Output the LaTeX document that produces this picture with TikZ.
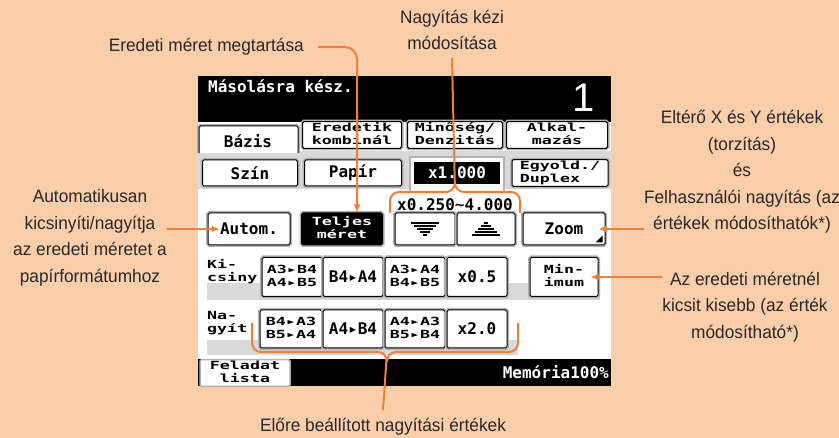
\documentclass[tikz,border=0pt]{standalone}
\usepackage{fontspec}
\usepackage{graphicx}
\setmainfont{Liberation Sans}[FakeStretch=0.96]
\newfontfamily\lcd{DejaVu Sans Mono}
\newfontfamily\bigdigit{Liberation Sans}
\usetikzlibrary{arrows.meta}

\definecolor{peach}{RGB}{251,206,170}
\definecolor{callout}{RGB}{240,128,56}
\definecolor{notegray}{RGB}{40,40,40}

% two squeezed lines on one key
\newcommand\pair[3][c]{\scalebox{1.04}[0.7]{\begin{tabular}{@{}#1@{}}#2\\#3\end{tabular}}}
\newcommand\tri{▸}

\tikzset{
  note/.style={align=center, text=notegray, inner sep=0pt,
    font=\fontsize{18}{26.5}\selectfont},
  lead/.style={draw=callout, line width=2pt, rounded corners=9pt},
  leadarrow/.style={lead, -{Latex[length=8pt,width=7pt]}},
  lcdtext/.style={inner sep=0pt, font=\lcd\bfseries\fontsize{16}{19}\selectfont},
  key/.style={lcdtext, draw=black, line width=1pt, fill=white,
    rounded corners=1.5pt, preaction={draw=gray!60, line width=4pt}},
  keyon/.style={key, fill=black, text=white},
  strip/.style={fill=gray!30},
}

\begin{document}
\begin{tikzpicture}[x=1pt, y=-1pt]
  % page
  \fill[peach] (0,0) rectangle (839,438);
  \useasboundingbox (0,0) rectangle (839,438);

  % screen
  \fill[white] (198,76) rectangle (611,386);
  \fill[black] (198,76) rectangle (611,122);
  \fill[black] (198,359) rectangle (611,386);
  \node[lcdtext, text=white, anchor=base west] (status) at (208,93) {Másolásra kész.};
  \node[text=white, font=\bigdigit\fontsize{40}{40}\selectfont, anchor=base, inner sep=0pt] (copies) at (584,112) {1};

  % tabs
  \fill[strip] (198,151) rectangle (611,189);
  \draw[fill=white, line width=1pt, rounded corners=1.5pt,
    preaction={draw=gray!60, line width=4pt}] (199,153) -- (199,126) -- (298,126) -- (298,153);
  \node[lcdtext] (basis) at (248,141) {Bázis};
  \node[key, minimum width=99, minimum height=26] (combine) at (352,135) {\pair{Eredetik}{kombinál}};
  \node[key, minimum width=95, minimum height=26] (quality) at (455,135) {\pair{Minőség/}{Denzitás}};
  \node[key, minimum width=101, minimum height=26] (apps) at (557,135) {\pair{Alkal-}{mazás}};

  % second row
  \node[key, minimum width=95, minimum height=26] (color) at (250,173) {Szín};
  \node[key, minimum width=97, minimum height=26] (paper) at (353,173) {Papír};
  \draw[gray!60, line width=2pt, fill=white] (410,193) -- (410,157) -- (504,157) -- (504,193);
  \node[lcdtext, fill=black, text=white, minimum width=86, minimum height=22] (ratio) at (457,173) {x1.000};
  \node[key, minimum width=96, minimum height=26] (duplex) at (560,173) {\pair[l]{Egyold./}{Duplex}};

  % zoom keys
  \node[lcdtext] (range) at (455,205) {x0.250\textasciitilde4.000};
  \node[key, minimum width=82, minimum height=32] (autom) at (249,229) {Autom.};
  \node[keyon, minimum width=81, minimum height=32] (teljes) at (342,229) {\pair{Teljes}{méret}};
  \node[key, minimum width=60, minimum height=32] (down) at (425,229) {};
  \node[key, minimum width=58, minimum height=32] (up) at (486,229) {};
  \node[key, minimum width=82, minimum height=32] (zoom) at (564,229) {Zoom};
  \foreach \i in {0,...,4} {
    \draw[line width=1.4pt] ([shift={(-14+3*\i,-6+3*\i)}]down.center) -- ([shift={(14-3*\i,-6+3*\i)}]down.center);
    \draw[line width=1.4pt] ([shift={(-2-3*\i,-6+3*\i)}]up.center) -- ([shift={(2+3*\i,-6+3*\i)}]up.center);
  }
  \fill ([shift={(-3,-3)}]zoom.south east) -- ++(-7,0) -- ++(7,-7) -- cycle;

  % preset keys
  \fill[strip] (207,283) rectangle (600,300);
  \fill[strip] (207,340) rectangle (518,355);
  \node[lcdtext, anchor=west] (smaller) at (207,272) {\pair[l]{Ki-}{csiny}};
  \node[key, minimum width=60, minimum height=39] (a3b4) at (292,277) {\pair{A3\tri B4}{A4\tri B5}};
  \node[key, minimum width=60, minimum height=39] (b4a4) at (353,277) {B4\tri A4};
  \node[key, minimum width=60, minimum height=39] (a3a4) at (415,277) {\pair{A3\tri A4}{B4\tri B5}};
  \node[key, minimum width=60, minimum height=39] (half) at (477,277) {x0.5};
  \node[key, minimum width=68, minimum height=39] (minimum) at (564,277) {\pair{Min-}{imum}};

  \node[lcdtext, anchor=west] (larger) at (207,323) {\pair[l]{Na-}{gyít}};
  \node[key, minimum width=62, minimum height=38] (b4a3) at (291,329) {\pair{B4\tri A3}{B5\tri A4}};
  \node[key, minimum width=60, minimum height=38] (a4b4) at (353,329) {A4\tri B4};
  \node[key, minimum width=60, minimum height=38] (a4a3) at (415,329) {\pair{A4\tri A3}{B5\tri B4}};
  \node[key, minimum width=60, minimum height=38] (double) at (477,329) {x2.0};

  % bottom bar
  \node[lcdtext, fill=white, draw=gray!60, line width=1.5pt, rounded corners=1.5pt,
    minimum width=90, minimum height=22] (jobs) at (245,373) {\pair{Feladat}{lista}};
  \node[lcdtext, text=white, anchor=base east] (memory) at (609,379) {Memória100\%};

  % callout texts
  \node[note, anchor=east] (keep) at (304,47) {Eredeti méret megtartása};
  \node[note] (manual) at (452,30) {Nagyítás kézi\\módosítása};
  \node[note] (autotext) at (90,238) {Automatikusan\\kicsinyíti/nagyítja\\az eredeti méretet a\\papírformátumhoz};
  \node[note] (zoomtext) at (742,172) {Eltérő X és Y értékek\\(torzítás)\\és\\Felhasználói nagyítás (az\\értékek módosíthatók*)};
  \node[note] (mintext) at (745,307) {Az eredeti méretnél\\kicsit kisebb (az érték\\módosítható*)};
  \node[note] (preset) at (383,427) {Előre beállított nagyítási értékek};

  % leaders
  \draw[leadarrow, rounded corners=12pt] ([xshift=14]keep.east) -| ([xshift=15]teljes.north);
  \draw[leadarrow] (autotext.east |- autom.west) -- ([xshift=12]autom.west);
  \draw[leadarrow] (zoomtext.west |- zoom.east) -- ([xshift=-7]zoom.east);
  \draw[leadarrow] (mintext.west |- minimum.east) -- ([xshift=-8]minimum.east);

  % braces
  \coordinate (rangeL) at (390,213);
  \coordinate (rangeR) at (520,213);
  \coordinate (rangetip) at (455,192);
  \draw[lead] (rangeL) |- (rangetip) -- ([yshift=-8]manual.south);
  \draw[lead] (rangeR) |- (rangetip) -- ++(0,-10);

  \coordinate (presetL) at (252,323);
  \coordinate (presetR) at (518,323);
  \coordinate (presettip) at (387,352);
  \draw[lead] (presetL) |- (presettip) -- ([yshift=8]preset.north);
  \draw[lead] (presetR) |- (presettip) -- ++(0,10);
\end{tikzpicture}
\end{document}
